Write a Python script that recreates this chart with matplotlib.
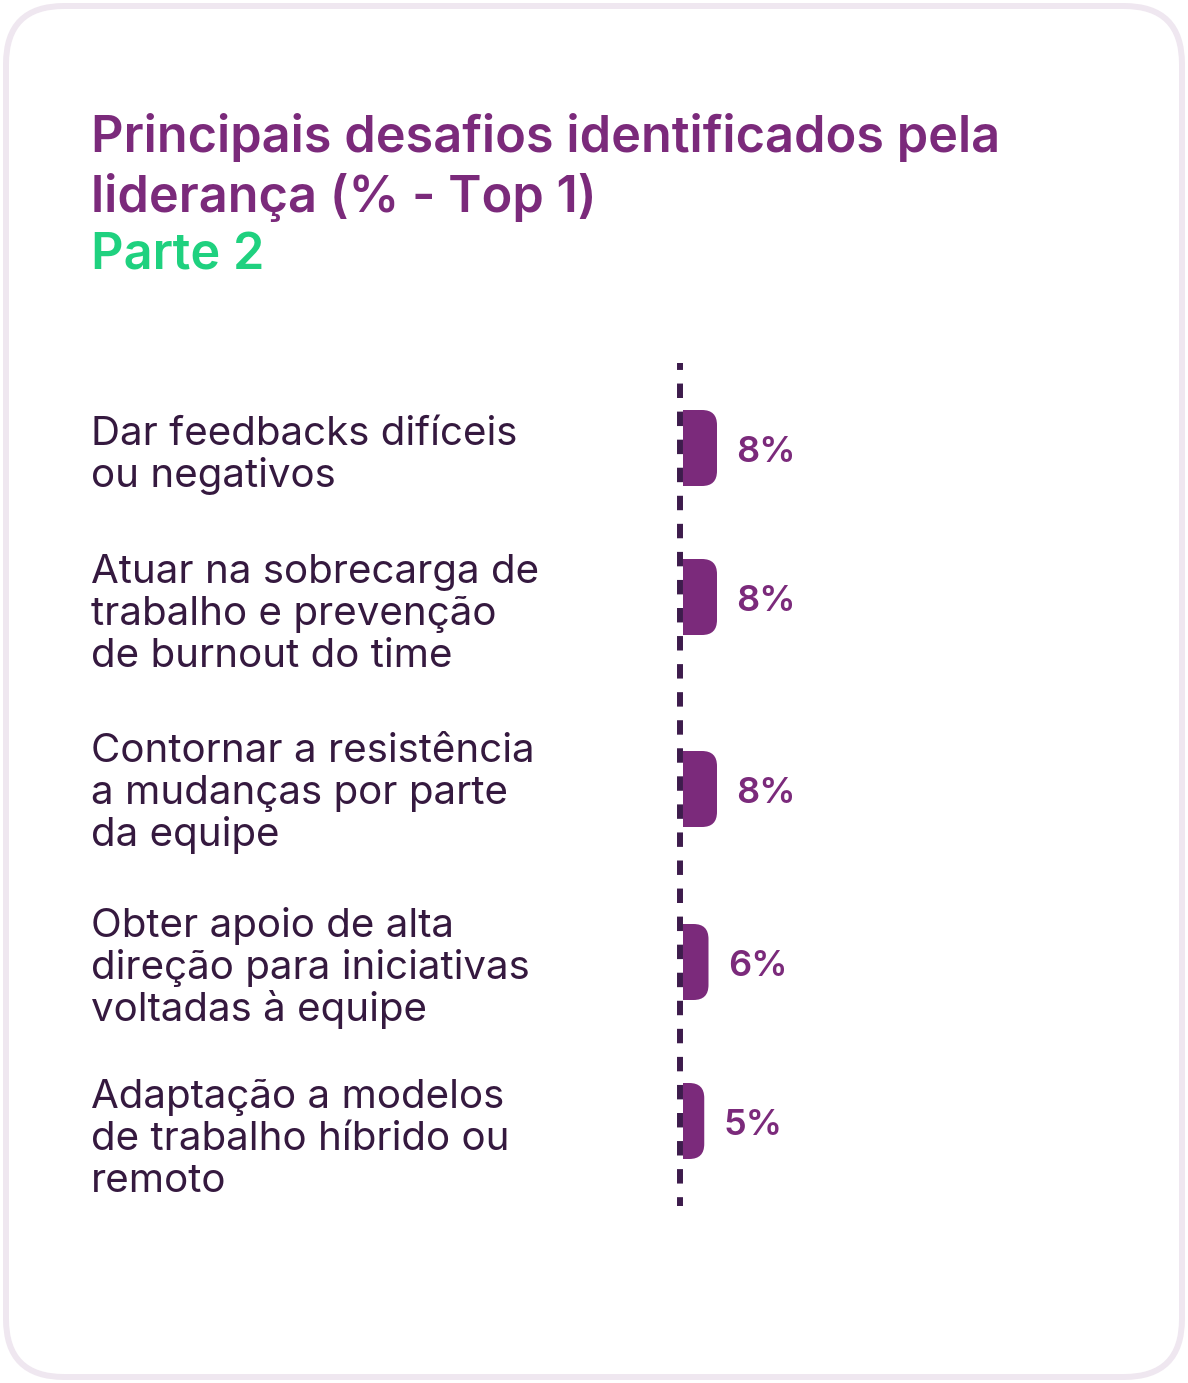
import matplotlib
matplotlib.use("Agg")
import matplotlib.pyplot as plt
from matplotlib.patches import FancyBboxPatch

# dados
categorias = [
    ["Dar feedbacks difíceis", "ou negativos"],
    ["Atuar na sobrecarga de", "trabalho e prevenção", "de burnout do time"],
    ["Contornar a resistência", "a mudanças por parte", "da equipe"],
    ["Obter apoio de alta", "direção para iniciativas", "voltadas à equipe"],
    ["Adaptação a modelos", "de trabalho híbrido ou", "remoto"],
]
valores = [8, 8, 8, 6, 5]
titulo = ["Principais desafios identificados pela", "liderança (% - Top 1)"]
subtitulo = "Parte 2"

# cores
roxo = "#7b2a7b"
verde = "#1fd17f"
texto = "#35193f"
linha_cor = "#3d1c4c"
borda = "#efe7f0"

plt.rcParams["font.family"] = ["Inter", "DejaVu Sans"]
plt.rcParams["lines.scale_dashes"] = False

W, H = 1188, 1383
fig = plt.figure(figsize=(W / 100, H / 100), dpi=100)
fig.patch.set_facecolor("white")

# camada de fundo em pixels
ax = fig.add_axes([0, 0, 1, 1])
ax.set_xlim(0, W)
ax.set_ylim(H, 0)
ax.axis("off")

ax.add_patch(FancyBboxPatch((6, 6), W - 12, H - 12,
                            boxstyle="round,pad=0,rounding_size=58",
                            facecolor="white", edgecolor=borda, linewidth=4.3))

# titulo
ax.text(91, 152, titulo[0], color=roxo, fontsize=36.3, fontweight="semibold", va="baseline")
ax.text(91, 212, titulo[1], color=roxo, fontsize=36.3, fontweight="semibold", va="baseline")
ax.text(91, 270, subtitulo, color=verde, fontsize=36.3, fontweight="semibold", va="baseline")

# rotulos das categorias
base_linhas = [445, 583, 762, 937, 1108]
for linhas, b in zip(categorias, base_linhas):
    for i, t in enumerate(linhas):
        ax.text(91, b + 42 * i, t, color=texto, fontsize=29, va="baseline")

# linha tracejada
ax.plot([680, 680], [363, 1206], color=linha_cor, linewidth=4.3,
        linestyle=(5.4, (10.4, 9.8)), solid_capstyle="butt", dash_capstyle="butt")

# eixo das barras
top, bot, left = 363, 1205, 683
px_por_pct = 4.25
larg = 400
axb = fig.add_axes([left / W, (H - bot) / H, larg / W, (bot - top) / H])
axb.set_xlim(0, larg / px_por_pct)
axb.set_ylim(bot, top)
axb.axis("off")

centros = [448, 597, 789, 962, 1121]
altura = 76
raio = 15 / px_por_pct
for v, c in zip(valores, centros):
    axb.add_patch(FancyBboxPatch((-raio, c - altura / 2), v + raio, altura,
                                 boxstyle=f"round,pad=0,rounding_size={raio}",
                                 mutation_aspect=px_por_pct,
                                 facecolor=roxo, edgecolor="none"))
    axb.annotate(f"{v}%", xy=(v, c), xytext=(14, -3), textcoords="offset points",
                 va="center", ha="left", color=roxo, fontsize=26, fontweight="semibold")

fig.savefig("out.png", dpi=100)
